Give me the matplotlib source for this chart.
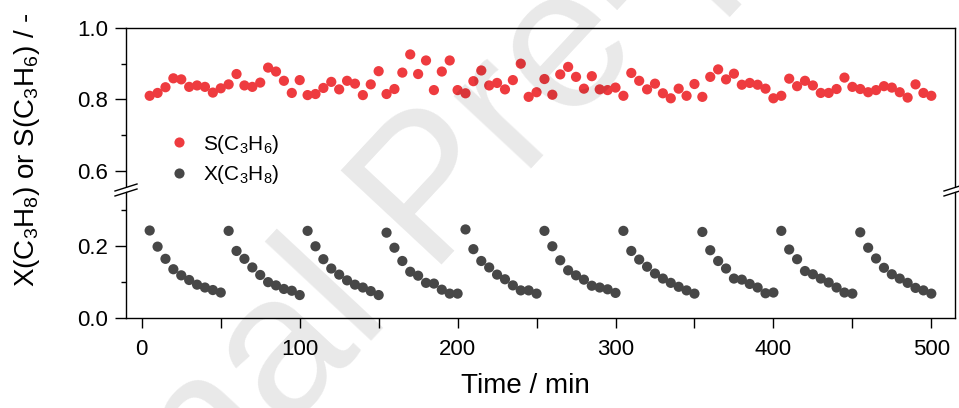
import numpy as np
import matplotlib
matplotlib.use("Agg")
import matplotlib.pyplot as plt
from matplotlib.lines import Line2D
from matplotlib.patches import Polygon
from matplotlib.ticker import MultipleLocator

plt.rcParams['font.family'] = ['Liberation Sans', 'DejaVu Sans']
plt.rcParams['mathtext.default'] = 'regular'

# time on stream, min (one point every 5 min)
time_min = np.arange(5, 505, 5)

# propene selectivity S(C3H6)
sel_c3h6 = [0.810, 0.818, 0.834, 0.859, 0.856, 0.835, 0.839, 0.835, 0.819, 0.831,
            0.842, 0.871, 0.839, 0.835, 0.847, 0.889, 0.878, 0.852, 0.818, 0.854,
            0.812, 0.815, 0.832, 0.849, 0.828, 0.852, 0.844, 0.812, 0.842, 0.879,
            0.815, 0.829, 0.875, 0.926, 0.871, 0.909, 0.826, 0.878, 0.909, 0.826,
            0.817, 0.851, 0.881, 0.839, 0.846, 0.828, 0.854, 0.900, 0.807, 0.820,
            0.857, 0.813, 0.870, 0.891, 0.863, 0.830, 0.865, 0.828, 0.826, 0.833,
            0.810, 0.874, 0.852, 0.828, 0.844, 0.817, 0.803, 0.830, 0.810, 0.843,
            0.807, 0.863, 0.884, 0.856, 0.872, 0.841, 0.846, 0.841, 0.830, 0.803,
            0.810, 0.858, 0.837, 0.852, 0.839, 0.818, 0.818, 0.829, 0.861, 0.835,
            0.829, 0.820, 0.826, 0.837, 0.833, 0.820, 0.805, 0.842, 0.818, 0.810]

# propane conversion X(C3H8), 10 regeneration cycles
conv_c3h8 = [0.244, 0.199, 0.165, 0.136, 0.119, 0.106, 0.093, 0.085, 0.078, 0.071,
             0.243, 0.187, 0.165, 0.141, 0.120, 0.100, 0.091, 0.081, 0.076, 0.064,
             0.243, 0.200, 0.164, 0.138, 0.121, 0.105, 0.093, 0.085, 0.075, 0.064,
             0.238, 0.196, 0.159, 0.129, 0.118, 0.098, 0.096, 0.079, 0.068, 0.068,
             0.247, 0.192, 0.159, 0.141, 0.121, 0.108, 0.091, 0.077, 0.077, 0.068,
             0.243, 0.200, 0.161, 0.133, 0.119, 0.107, 0.090, 0.085, 0.080, 0.070,
             0.243, 0.187, 0.163, 0.143, 0.124, 0.110, 0.098, 0.087, 0.077, 0.068,
             0.240, 0.189, 0.159, 0.138, 0.110, 0.107, 0.095, 0.085, 0.069, 0.071,
             0.243, 0.191, 0.164, 0.131, 0.122, 0.110, 0.099, 0.085, 0.071, 0.068,
             0.239, 0.196, 0.166, 0.140, 0.122, 0.110, 0.098, 0.084, 0.077, 0.068]

red = '#EE3B3F'
grey = '#474747'
W, H = 959, 408

fig = plt.figure(figsize=(W/100, H/100), dpi=100)

# pixel layout of the broken axis
left, right = 126, 955
top, brk, bottom = 28, 190, 318
ax_top = fig.add_axes([left/W, 1-brk/H, (right-left)/W, (brk-top)/H])
ax_bot = fig.add_axes([left/W, 1-bottom/H, (right-left)/W, (bottom-brk)/H])

for ax in (ax_top, ax_bot):
    ax.set_xlim(-10, 515)
    for s in ax.spines.values():
        s.set_linewidth(1.0)
    ax.tick_params(axis='y', which='major', direction='out', length=8, width=1.0,
                   labelsize=16, pad=5)
    ax.tick_params(axis='y', which='minor', direction='out', length=3.5, width=1.0)

ax_top.set_ylim(0.546, 1.0)
ax_top.yaxis.set_major_locator(MultipleLocator(0.2))
ax_top.yaxis.set_minor_locator(MultipleLocator(0.1))
ax_top.spines['bottom'].set_visible(False)
ax_top.tick_params(axis='x', which='both', bottom=False, labelbottom=False)

ax_bot.set_ylim(0.0, 0.357)
ax_bot.yaxis.set_major_locator(MultipleLocator(0.2))
ax_bot.yaxis.set_minor_locator(MultipleLocator(0.1))
ax_bot.spines['top'].set_visible(False)
ax_bot.xaxis.set_major_locator(MultipleLocator(100))
ax_bot.xaxis.set_minor_locator(MultipleLocator(50))
ax_bot.tick_params(axis='x', which='both', direction='out', length=7, width=1.0,
                   labelsize=16, pad=8)

ax_top.scatter(time_min, sel_c3h6, s=54, color=red, edgecolors='none', zorder=3)
ax_bot.scatter(time_min, conv_c3h8, s=54, color=grey, edgecolors='none', zorder=3)

handles = [Line2D([], [], ls='none', marker='o', ms=7.3, color=red, mec='none'),
           Line2D([], [], ls='none', marker='o', ms=7.3, color=grey, mec='none')]
ax_top.legend(handles, ['S(C$_3$H$_6$)', 'X(C$_3$H$_8$)'], loc='center left',
              bbox_to_anchor=(0.041, 0.19), frameon=False, fontsize=15,
              borderpad=0, handlelength=0.8, handletextpad=0.75, labelspacing=0.35)

fig.text(27/W, 1-150/H, 'X(C$_3$H$_8$) or S(C$_3$H$_6$) / -', rotation=90,
         ha='center', va='center', fontsize=20)
fig.text(525/W, 1-386/H, 'Time / min', ha='center', va='center', fontsize=20)

# axis break marks
for xb in (left, right):
    gap = Polygon([((xb-11)/W, 1-(brk+1.5)/H), ((xb+11)/W, 1-(brk-5.5)/H),
                   ((xb+11)/W, 1-(brk-1.5)/H), ((xb-11)/W, 1-(brk+5.5)/H)],
                  closed=True, transform=fig.transFigure, fc='white', ec='none', zorder=5)
    fig.patches.append(gap)
    for dy in (-2.5, 2.5):
        fig.add_artist(Line2D([(xb-11)/W, (xb+11)/W],
                              [1-(brk+dy+3.5)/H, 1-(brk+dy-3.5)/H],
                              transform=fig.transFigure, color='black', lw=1.0, zorder=6))

# watermark
fig.text(0.454, 0.52, 'Journal Pre-proof', rotation=47, fontsize=145, color='black',
         alpha=0.09, ha='center', va='center', zorder=10)

fig.savefig('out.png', dpi=100)
